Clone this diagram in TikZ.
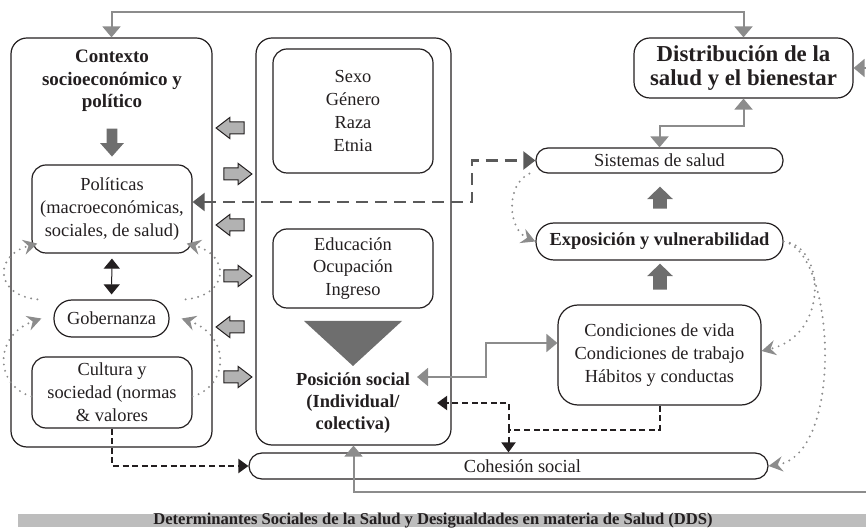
\documentclass[tikz,border=0pt]{standalone}
\usepackage{fontspec}
\setmainfont{Liberation Serif}
\usetikzlibrary{arrows.meta,shapes.arrows}

\definecolor{ink}{HTML}{231F20}
\definecolor{linegray}{HTML}{8C8C8C}
\definecolor{dashgray}{HTML}{5A5A5A}
\definecolor{fatgray}{HTML}{6E6E6E}
\definecolor{blockgray}{HTML}{B2B2B2}
\definecolor{bargray}{HTML}{BDBDBD}

\newcommand{\txtfont}{\fontsize{9.2}{11.4}\selectfont}
\newcommand{\boldtxt}{\fontsize{9.2}{11.2}\selectfont\bfseries}
\newcommand{\bigfont}{\fontsize{11.4}{11.8}\selectfont\bfseries}
\newcommand{\titlefont}{\fontsize{8.3}{9}\selectfont\bfseries}

\tikzset{
  box/.style={draw=ink, line width=0.6pt, rounded corners=#1, align=center, inner sep=1.5pt},
  box/.default=7pt,
  fatarrow/.style={single arrow, draw=none, fill=fatgray, text height=0pt, text depth=0pt, minimum height=#1},
  blockarrow/.style={single arrow, draw=ink, fill=blockgray, line width=0.5pt, inner sep=2.75pt,
    text height=0pt, text depth=0pt, single arrow head extend=2.25pt, single arrow tip angle=75, minimum height=14pt},
  grayline/.style={draw=linegray, line width=1pt},
  darkdash/.style={draw=dashgray, line width=1.1pt, dash pattern=on 6pt off 3.5pt},
  blackdash/.style={draw=ink, line width=1pt, dash pattern=on 3pt off 1.8pt, >={Triangle[width=7pt,length=5pt]}},
  dots/.style={draw=linegray, line width=1.1pt, line cap=round, dash pattern=on 0pt off 3.2pt,
    >={Stealth[width=7.5pt,length=7pt,inset=2.4pt]}}
}

\begin{document}
\begin{tikzpicture}[x=0.5pt, y=-0.5pt, >={Triangle[width=9pt,length=5.5pt]}, font=\txtfont, text=ink]
    \useasboundingbox (0,0) rectangle (866,528);

    % the two big columns
    \node[box=8pt, minimum width=100.5pt, minimum height=204.5pt] (ctx) at (111.5,242.5) {};
    \node[box=8pt, minimum width=97.5pt, minimum height=203.5pt] (mid) at (353.5,241.5) {};

    % left column
    \node[font=\fontsize{9.5}{11.3}\selectfont\bfseries, align=center] (ctxt) at (112,81) {Contexto\\socioeconómico y\\político};
    \node[fatarrow=14pt, inner sep=2.5pt, single arrow head extend=3.25pt, single arrow tip angle=83, shape border rotate=270] (ctxarr) at (112,139.5) {};
    \node[box, minimum width=80pt, minimum height=44pt] (pol) at (112,209) {Políticas\\(macroeconómicas,\\sociales, de salud)};
    \node[box=9pt, minimum width=57.5pt, minimum height=18.5pt] (gob) at (111.5,318.5) {Gobernanza};
    \node[box, minimum width=80pt, minimum height=35.5pt] (cul) at (112,392.5) {Cultura y\\sociedad (normas\\\& valores};

    % middle column
    \node[box, minimum width=80pt, minimum height=62pt] (sexo) at (353,111) {Sexo\\Género\\Raza\\Etnia};
    \node[box, minimum width=80pt, minimum height=39.5pt] (edu) at (353,268.5) {Educación\\Ocupación\\Ingreso};
    \fill[fatgray] (304,321) -- (402,321) -- (353,366) -- cycle;
    \node[font=\boldtxt, align=center] (pos) at (353,403) {Posición social\\(Individual/\\colectiva)};

    % block arrows between the columns
    \node[blockarrow, shape border rotate=180] (ba1) at (234,128) {};
    \node[blockarrow] (ba2) at (234,174) {};
    \node[blockarrow, shape border rotate=180] (ba3) at (234,225) {};
    \node[blockarrow] (ba4) at (234,276) {};
    \node[blockarrow, shape border rotate=180] (ba5) at (234,327) {};
    \node[blockarrow] (ba6) at (234,377) {};

    % right side
    \node[box=8pt, minimum width=109.5pt, minimum height=30pt, font=\bigfont] (dist) at (743.5,68) {Distribución de la\\salud y el bienestar};
    \node[box=6pt, minimum width=123.5pt, minimum height=12.5pt] (sis) at (659.5,160.5) {Sistemas de salud};
    \node[fatarrow=11pt, inner sep=3.25pt, single arrow head extend=3pt, single arrow tip angle=92, shape border rotate=90] (sisarr) at (660,201) {};
    \node[box=9pt, minimum width=123.5pt, minimum height=18.5pt, font=\boldtxt] (expo) at (659.5,241.5) {Exposición y vulnerabilidad};
    \node[fatarrow=13pt, inner sep=3.25pt, single arrow head extend=3pt, single arrow tip angle=92, shape border rotate=90] (expoarr) at (660,280) {};
    \node[box=10pt, minimum width=101.5pt, minimum height=50pt] (cond) at (659.5,355) {Condiciones de vida\\Condiciones de trabajo\\Hábitos y conductas};
    \node[box=6.5pt, minimum width=259.5pt, minimum height=13pt] (coh) at (508.5,466) {\hspace*{14pt}Cohesión social};

    % gray feedback lines
    \coordinate (rt) at (900,492);
    \draw[grayline,<->] (ctx.north) -- ++(0,-25) -| (dist.north);
    \draw[grayline,<->] (dist.south) -- ++(0,27) -| (sis.north);
    \draw[grayline,<->] (mid.south) |- (rt) |- (dist.east);
    \draw[grayline,<->] ([yshift=13pt]pos.east) -- ++(69,0) |- ([yshift=6pt]cond.west);

    % dashed links
    \draw[darkdash,<->,>={Triangle[width=9pt,length=6pt]}] ([yshift=3.5pt]pol.east) -- ++(279,0) |- (sis.west);
    \draw[blackdash,->] (cul.south) |- (coh.west);
    \draw[blackdash,->] (cond.south) -- ++(0,24) -| (coh.north) coordinate[pos=0.5] (cj);
    \draw[blackdash,->] (cj) |- ([xshift=10pt]pos.east);
    \draw[draw=ink, line width=0.5pt, <->, >={Triangle[width=8pt,length=5pt]}, shorten <=2.5pt, shorten >=2.5pt] (pol.south) -- (gob.north);

    % dotted loops
    \draw[dots,->] ([xshift=-8pt]gob.north west) .. controls (-6,295) and (-6,255) .. ([shift={(3pt,5pt)}]pol.south west);
    \draw[dots,->] ([xshift=8pt]gob.north east) .. controls (230,295) and (230,255) .. ([shift={(-3pt,5pt)}]pol.south east);
    \draw[dots,->] ([yshift=-2pt]cul.west) .. controls (-6,385) and (-6,335) .. ([xshift=-6pt]gob.west);
    \draw[dots,->] ([yshift=-2pt]cul.east) .. controls (230,385) and (230,335) .. ([xshift=6pt]gob.east);
    \draw[dots,->] ([xshift=-3pt]sis.south west) .. controls (505,185) and (508,230) .. (expo.west);
    \draw[dots,->] (expo.east) .. controls (825,245) and (830,335) .. ([yshift=2pt]cond.east);
    \draw[dots,->] (expo.east) .. controls (835,250) and (845,455) .. (coh.east);

    % title bar
    \fill[bargray] (18,514) rectangle (866,527);
    \node[font=\titlefont, inner sep=0pt] (title) at (433,520.5) {Determinantes Sociales de la Salud y Desigualdades en materia de Salud (DDS)};
\end{tikzpicture}
\end{document}
